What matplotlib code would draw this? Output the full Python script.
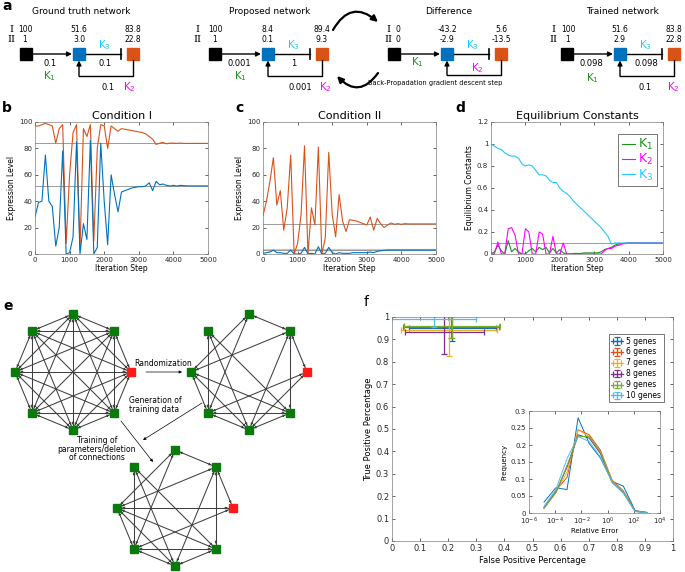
import itertools
import numpy as np
import matplotlib
matplotlib.use('Agg')
import matplotlib.pyplot as plt
from matplotlib.patches import FancyArrowPatch, Rectangle
from matplotlib.collections import LineCollection
from matplotlib.ticker import FuncFormatter

plt.rcParams['font.family'] = 'DejaVu Sans'

# ---------------- data ----------------
iters = np.arange(0, 5001, 100)

b_orange = [97, 97, 98, 99, 98, 97, 84, 95, 98, 8, 60, 92, 98, 3, 95, 89, 98, 10, 80, 98,
            97, 80, 97, 95, 93, 95, 94.5, 94, 93.5, 93, 92.5, 92, 91, 89, 87, 83, 84, 84.5,
            83.5, 84, 84, 83.8, 84, 83.8, 83.8, 83.8, 83.8, 83.8, 83.8, 83.8, 83.8]
b_blue = [28, 39, 40, 75, 40, 36, 6, 20, 78, 0, 1, 13, 85, 0, 23, 11, 86, 0, 5, 84,
          40, 7, 60, 45, 32, 47, 48, 49, 50, 50.5, 51, 51, 51.5, 54, 48, 55, 52.5, 53,
          52, 51.5, 52, 51.5, 52, 51.8, 51.6, 51.6, 51.6, 51.6, 51.6, 51.6, 51.6]
b_ref = [83.8, 51.6]

c_orange = [29, 40, 55, 73, 37, 48, 18, 35, 75, 0, 8, 30, 82, 0, 35, 22, 81, 0, 12, 77,
            30, 13, 45, 25, 17, 26, 25.5, 25, 24, 23, 22, 28, 18, 27, 23, 20, 22, 23.5,
            22.5, 23, 22.5, 23, 22.8, 22.8, 22.8, 22.8, 22.8, 22.8, 22.8, 22.8, 22.8]
c_blue = [0.5, 1, 1.5, 3, 1, 1, 0.5, 0.5, 3, 0, 0, 0.5, 5, 0, 0.5, 0, 5.5, 0, 0.5, 5,
          1, 0, 1, 0.5, 0.5, 0.5, 1, 1, 1, 1, 1, 1.5, 1, 2, 2.5, 2.8, 3, 3, 3, 3, 3, 3,
          3, 3, 3, 3, 3, 3, 3, 3, 3]
c_ref = [22.8, 3.0]

d_k1 = [0, 0.02, 0.08, 0.03, 0, 0.12, 0.02, 0.05, 0.02, 0, 0, 0.03, 0.05, 0.02, 0.06,
        0.04, 0.06, 0.01, 0.05, 0.01, 0.04, 0.01, 0, 0, 0.005, 0.005, 0.005, 0.01, 0.01,
        0.01, 0.01, 0.01, 0.02, 0.04, 0.05, 0.06, 0.08, 0.09, 0.095, 0.098, 0.1, 0.1,
        0.1, 0.1, 0.1, 0.1, 0.1, 0.1, 0.1, 0.1, 0.1]
d_k2 = [0, 0, 0.11, 0, 0, 0.23, 0.24, 0.17, 0, 0, 0.23, 0.20, 0, 0, 0.20, 0.18, 0, 0,
        0.16, 0, 0, 0.10, 0, 0, 0, 0, 0, 0, 0, 0, 0, 0, 0, 0.03, 0.05, 0.05, 0.07, 0.08,
        0.09, 0.095, 0.1, 0.1, 0.1, 0.1, 0.1, 0.1, 0.1, 0.1, 0.1, 0.1, 0.1]
d_k3 = [1.0, 0.98, 0.96, 0.95, 0.92, 0.90, 0.89, 0.89, 0.87, 0.82, 0.80, 0.81, 0.80,
        0.76, 0.72, 0.72, 0.71, 0.67, 0.65, 0.65, 0.60, 0.57, 0.55, 0.52, 0.48, 0.45,
        0.42, 0.39, 0.36, 0.33, 0.30, 0.27, 0.24, 0.20, 0.16, 0.09, 0.10, 0.10, 0.10,
        0.10, 0.10, 0.10, 0.10, 0.10, 0.10, 0.10, 0.10, 0.10, 0.10, 0.10, 0.10]
d_ref = 0.1

# panel a
net_titles = ['Ground truth network', 'Proposed network', 'Difference', 'Trained network']
net_input = [('100', '1'), ('100', '1'), ('0', '0'), ('100', '1')]
net_blue = [('51.6', '3.0'), ('8.4', '0.1'), ('-43.2', '-2.9'), ('51.6', '2.9')]
net_orange = [('83.8', '22.8'), ('89.4', '9.3'), ('5.6', '-13.5'), ('83.8', '22.8')]
net_k1 = ['0.1', '0.001', '', '0.098']
net_k3 = ['0.1', '1', '', '0.098']
net_k2 = ['0.1', '0.001', '', '0.1']

# panel f
genes = ['5 genes', '6 genes', '7 genes', '8 genes', '9 genes', '10 genes']
fp_mean = [0.215, 0.21, 0.202, 0.186, 0.213, 0.148]
fp_err = [0.155, 0.17, 0.17, 0.14, 0.17, 0.15]
tp_mean = [0.95, 0.957, 0.94, 0.935, 0.96, 0.99]
tp_err = [0.055, 0.05, 0.115, 0.10, 0.055, 0.035]

err_bins = [1.4e-5, 1.1e-4, 8e-4, 5.6e-3, 4e-2, 2.8e-1, 2.2, 16, 126, 1000]
err_freq = [
    [0.032, 0.074, 0.069, 0.28, 0.204, 0.162, 0.093, 0.079, 0.007, 0.002],
    [0.015, 0.065, 0.105, 0.245, 0.23, 0.185, 0.097, 0.065, 0.006, 0.001],
    [0.016, 0.06, 0.12, 0.245, 0.225, 0.18, 0.095, 0.06, 0.005, 0.001],
    [0.015, 0.06, 0.135, 0.23, 0.22, 0.175, 0.09, 0.06, 0.005, 0.001],
    [0.014, 0.06, 0.14, 0.225, 0.225, 0.18, 0.092, 0.062, 0.005, 0.001],
    [0.02, 0.068, 0.16, 0.225, 0.21, 0.165, 0.09, 0.058, 0.004, 0.001],
]

# panel e edges (node 0 = right, then counter-clockwise)
full_edges = list(itertools.combinations(range(8), 2))
random_edges = [(2, 1), (1, 0), (2, 4), (2, 5), (1, 4), (1, 6), (1, 7), (3, 5), (3, 7),
                (3, 6), (0, 5), (0, 6), (4, 7), (4, 6), (5, 7), (5, 6), (6, 7), (4, 5)]
trained_edges = [(2, 1), (1, 0), (2, 4), (2, 5), (1, 4), (1, 6), (1, 7), (3, 5), (3, 7),
                 (3, 6), (0, 5), (0, 4), (4, 7), (4, 6), (5, 7), (5, 6), (6, 7), (4, 5)]

BLUE = '#0072BD'
ORANGE = '#D95319'
M_COLORS = ['#0072BD', '#D95319', '#EDB120', '#7E2F8E', '#77AC30', '#4DBEEE']
K1C, K2C, K3C = '#1f8f1f', '#ff00ff', '#22c8ff'

fig = plt.figure(figsize=(6.85, 5.72), dpi=100)
ov = fig.add_axes([0, 0, 1, 1])
ov.set_xlim(0, 685)
ov.set_ylim(572, 0)
ov.axis('off')


def matlab_style(ax, size=5):
    ax.tick_params(direction='in', top=True, right=True, length=2.5, width=0.5,
                   labelsize=size, pad=2, colors='#262626')
    for s in ax.spines.values():
        s.set_linewidth(0.5)
        s.set_color('#808080')


def arrow(p0, p1, style='-|>', ms=5, lw=0.6, color='black', **kw):
    ov.add_patch(FancyArrowPatch(p0, p1, arrowstyle=style, mutation_scale=ms, lw=lw,
                                 color=color, shrinkA=0, shrinkB=0, **kw))


# ---------------- panel a ----------------
bxs = [26, 215, 394, 567]
i_dx = [-15, -18, -6, -14]
v_dx = [-1, 0, 4, 1]
k1_pos = [(23, 76), (25, 76), (23, 62), (25, 78)]
k2_pos = [(103, 87), (110, 87), (83, 68), (106, 87)]
k2c_x = [82, 85, 0, 78]
for n in range(4):
    bx = bxs[n]
    y = 54
    ov.text(bx + 55, 12, net_titles[n], ha='center', va='center', fontsize=6.5)
    for sq, col in [(0, 'black'), (53, BLUE), (107, ORANGE)]:
        ov.add_patch(Rectangle((bx + sq - 6, y - 6), 12, 12, color=col))
    ov.text(bx + i_dx[n], 29, 'I', family='DejaVu Serif', ha='center', va='center', fontsize=7)
    ov.text(bx + i_dx[n], 40, 'II', family='DejaVu Serif', ha='center', va='center', fontsize=7)
    for row, yy in enumerate([29, 40]):
        ov.text(bx + v_dx[n], yy, net_input[n][row], ha='center', va='center', fontsize=5.5)
        ov.text(bx + 53, yy, net_blue[n][row], ha='center', va='center', fontsize=5.5)
        ov.text(bx + 107, yy, net_orange[n][row], ha='center', va='center', fontsize=5.5)
    arrow((bx + 7, y), (bx + 46, y), lw=1.0, ms=7)
    ov.plot([bx + 60, bx + 95], [y, y], color='black', lw=1.0)
    ov.plot([bx + 95, bx + 95], [y - 5, y + 5], color='black', lw=1.2)
    fy = 75 if n == 2 else 76
    ov.plot([bx + 107, bx + 107, bx + 53], [y + 6, fy, fy], color='black', lw=1.0)
    arrow((bx + 53, fy), (bx + 53, y + 6.5), lw=1.0, ms=7)
    ov.text(bx + k1_pos[n][0], k1_pos[n][1], 'K$_1$', color=K1C, ha='center', va='center', fontsize=7.5)
    ov.text(bx + 78, 45, 'K$_3$', color=K3C, ha='center', va='center', fontsize=7.5)
    ov.text(bx + k2_pos[n][0], k2_pos[n][1], 'K$_2$', color=K2C, ha='center', va='center', fontsize=7.5)
    if net_k1[n]:
        ov.text(bx + 24, 63, net_k1[n], ha='center', va='center', fontsize=6)
        ov.text(bx + 79, 63, net_k3[n], ha='center', va='center', fontsize=6)
        ov.text(bx + k2c_x[n], 87, net_k2[n], ha='center', va='center', fontsize=6)

arrow((333, 30), (378, 22), lw=1.6, ms=9, connectionstyle='arc3,rad=-0.6')
arrow((378, 73), (337, 76), lw=1.6, ms=9, connectionstyle='arc3,rad=-0.6')
ov.text(435, 83, 'Back-Propadation gradient descent step', ha='center', va='center', fontsize=4.8)

# panel letters
ov.text(2, 6, 'a', fontsize=10, fontweight='bold', va='center')
ov.text(2, 108, 'b', fontsize=10, fontweight='bold', va='center')
ov.text(235, 108, 'c', fontsize=10, fontweight='bold', va='center')
ov.text(455, 108, 'd', fontsize=10, fontweight='bold', va='center')
ov.text(3, 306, 'e', fontsize=10, fontweight='bold', va='center')
ov.text(364, 302, 'f', fontsize=10, va='center')

# ---------------- panels b, c, d ----------------
ax_b = fig.add_axes([35 / 685, 1 - 254 / 572, 173 / 685, 132 / 572])
ax_c = fig.add_axes([263 / 685, 1 - 254 / 572, 173 / 685, 132 / 572])
ax_d = fig.add_axes([491 / 685, 1 - 254 / 572, 172 / 685, 132 / 572])

for ax, orange, blue, refs, title in [(ax_b, b_orange, b_blue, b_ref, 'Condition I'),
                                      (ax_c, c_orange, c_blue, c_ref, 'Condition II')]:
    for r in refs:
        ax.axhline(r, color='#8c8c8c', lw=0.6)
    ax.plot(iters, orange, color=ORANGE, lw=0.8)
    ax.plot(iters, blue, color=BLUE, lw=0.8)
    ax.set_xlim(0, 5000)
    ax.set_ylim(0, 100)
    ax.set_xticks(range(0, 5001, 1000))
    ax.set_yticks(range(0, 101, 20))
    ax.set_title(title, fontsize=8, pad=2)
    ax.set_xlabel('Iteration Step', fontsize=5.5, labelpad=1)
    ax.set_ylabel('Expression Level', fontsize=5.5, labelpad=2)
    matlab_style(ax)
ax_c.axhline(c_ref[1], color='#c8c8c8', lw=1.6, zorder=0.5)

ax_d.axhline(d_ref, color='#8c8c8c', lw=0.6)
ax_d.plot(iters, d_k1, color=K1C, lw=0.8, label='K$_1$')
ax_d.plot(iters, d_k2, color=K2C, lw=0.8, label='K$_2$')
ax_d.plot(iters, d_k3, color=K3C, lw=0.8, label='K$_3$')
ax_d.set_xlim(0, 5000)
ax_d.set_ylim(0, 1.2)
ax_d.set_xticks(range(0, 5001, 1000))
ax_d.set_yticks(np.arange(0, 1.21, 0.2))
ax_d.yaxis.set_major_formatter(FuncFormatter(lambda v, _: f'{v:g}'))
ax_d.set_title('Equilibrium Constants', fontsize=8, pad=2)
ax_d.set_xlabel('Iteration Step', fontsize=5.5, labelpad=1)
ax_d.set_ylabel('Equilibrium Constants', fontsize=5.5, labelpad=2)
matlab_style(ax_d)
leg = ax_d.legend(loc='upper right', fontsize=9, handlelength=1.1, handletextpad=0.2,
                  labelspacing=0.0, borderpad=0.3, fancybox=False, framealpha=1,
                  bbox_to_anchor=(1.0, 0.96))
leg.get_frame().set_edgecolor('#404040')
leg.get_frame().set_linewidth(0.5)
for t, c in zip(leg.get_texts(), [K1C, K2C, K3C]):
    t.set_color(c)


# ---------------- panel e ----------------
def draw_network(cx, cy, edges, r=58):
    ang = np.deg2rad(np.arange(8) * 45)
    px = cx + r * np.cos(ang)
    py = cy - r * np.sin(ang)
    segs = [[(px[i], py[i]), (px[j], py[j])] for i, j in edges]
    ov.add_collection(LineCollection(segs, colors='#404040', linewidths=0.75, zorder=2))
    for i, j in edges:
        x0, y0, x1, y1 = px[i], py[i], px[j], py[j]
        d = np.hypot(x1 - x0, y1 - y0)
        ux, uy = (x1 - x0) / d, (y1 - y0) / d
        for (ex, ey, sgn) in [(x1, y1, 1), (x0, y0, -1)]:
            tip = (ex - sgn * ux * 5, ey - sgn * uy * 5)
            tail = (ex - sgn * ux * 9, ey - sgn * uy * 9)
            arrow(tail, tip, ms=3.5, lw=0.4, color='#2a2a2a')
    for k in range(8):
        col = '#ff1a1a' if k == 0 else '#0a7a0a'
        ov.add_patch(Rectangle((px[k] - 4, py[k] - 4), 8, 8, color=col, zorder=3))


draw_network(73, 372, full_edges)
draw_network(249, 372, random_edges)
draw_network(175, 508, trained_edges)

ov.text(134, 363, 'Randomization', fontsize=5.5, va='center')
arrow((146, 372), (182, 372), ms=4, lw=0.5)
ov.text(129, 405, 'Generation of\ntraining data', fontsize=5.5, va='center', linespacing=0.9)
arrow((202, 403), (143, 440), ms=4, lw=0.5)
ov.text(97, 449, 'Training of\nparameters/deletion\nof connections', fontsize=5.5,
        ha='center', va='center', linespacing=0.9)
arrow((121, 421), (153, 462), ms=4, lw=0.5)

# ---------------- panel f ----------------
ax_f = fig.add_axes([392 / 685, 1 - 541 / 572, 281 / 685, 224 / 572])
for k in range(len(genes)):
    ax_f.errorbar(fp_mean[k], tp_mean[k], xerr=fp_err[k], yerr=tp_err[k],
                  color=M_COLORS[k], lw=0.9, capsize=2, capthick=0.9, label=genes[k])
ax_f.set_xlim(0, 1)
ax_f.set_ylim(0, 1)
ax_f.set_xticks(np.arange(0, 1.01, 0.1))
ax_f.set_yticks(np.arange(0, 1.01, 0.1))
fmt = FuncFormatter(lambda v, _: f'{v:.1f}'.rstrip('0').rstrip('.') if v else '0')
ax_f.xaxis.set_major_formatter(fmt)
ax_f.yaxis.set_major_formatter(fmt)
ax_f.set_xlabel('False Positive Percentage', fontsize=6, labelpad=2)
ax_f.set_ylabel('True Positive Percentage', fontsize=6, labelpad=2)
matlab_style(ax_f, size=6)
leg_f = ax_f.legend(loc='upper right', fontsize=5.5, fancybox=False, framealpha=1,
                    handlelength=1.6, handletextpad=0.4, labelspacing=0.25, borderpad=0.3,
                    bbox_to_anchor=(0.98, 0.94))
leg_f.get_frame().set_edgecolor('#404040')
leg_f.get_frame().set_linewidth(0.5)

ax_in = fig.add_axes([529 / 685, 1 - 513 / 572, 131 / 685, 102 / 572])
for k in range(len(genes)):
    ax_in.plot(err_bins, err_freq[k], color=M_COLORS[k], lw=0.7)
ax_in.set_xscale('log')
ax_in.set_xlim(1e-6, 1e4)
ax_in.set_ylim(0, 0.3)
ax_in.set_xticks([1e-6, 1e-4, 1e-2, 1, 1e2, 1e4])
ax_in.minorticks_off()
ax_in.set_yticks(np.arange(0, 0.301, 0.05))
ax_in.yaxis.set_major_formatter(FuncFormatter(lambda v, _: f'{v:.2f}'.rstrip('0').rstrip('.') if v > 1e-9 else '0'))
ax_in.set_xlabel('Relative Error', fontsize=5, labelpad=1)
ax_in.set_ylabel('Frequency', fontsize=5, labelpad=2)
matlab_style(ax_in, size=5)

fig.savefig('out.png', dpi=100)
